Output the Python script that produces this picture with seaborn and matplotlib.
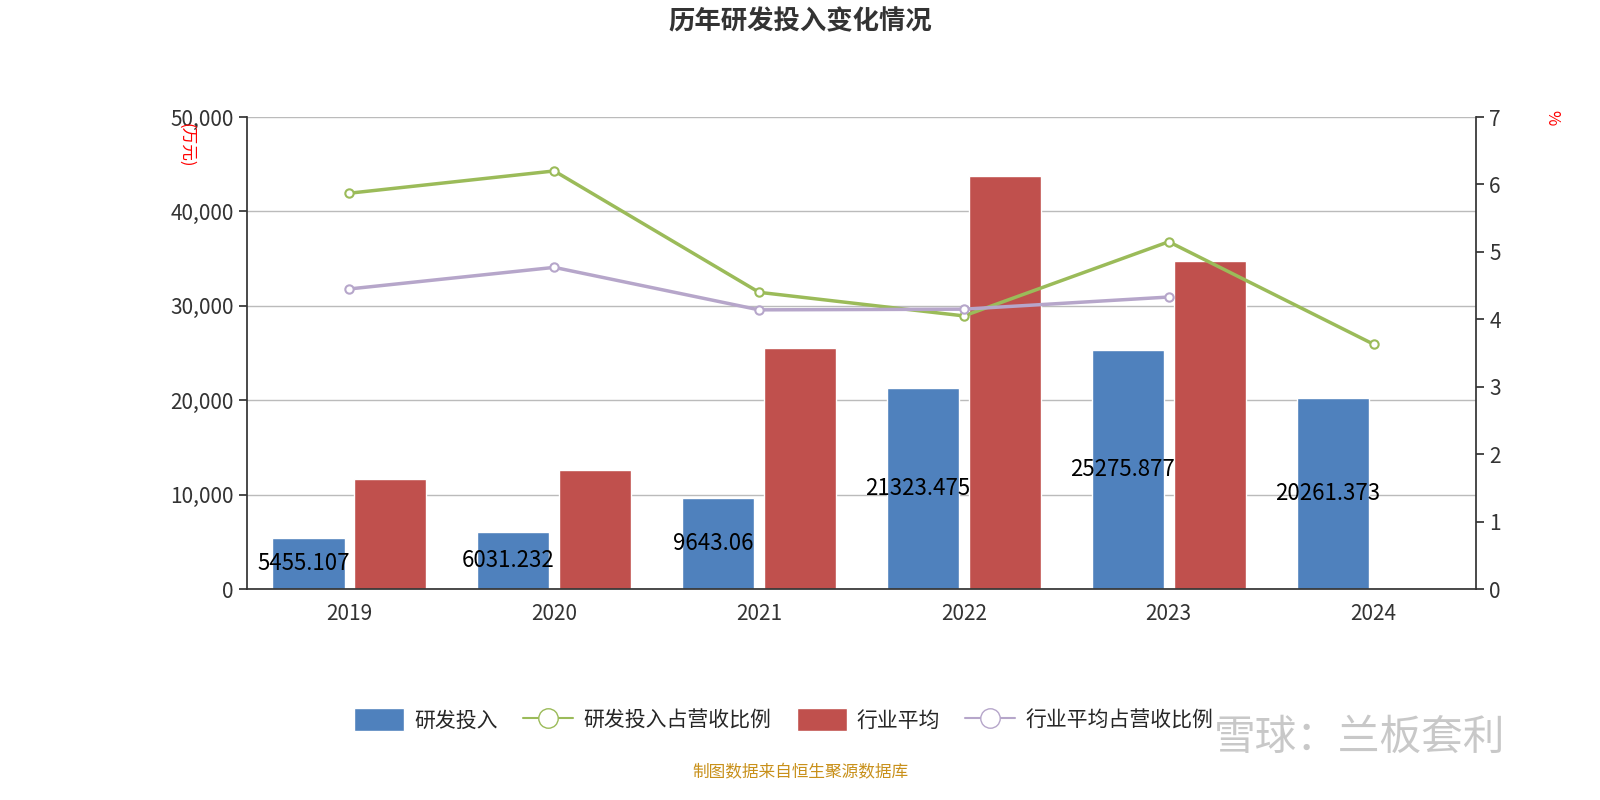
import numpy as np
import pandas as pd
import matplotlib
matplotlib.use('Agg')
import matplotlib.pyplot as plt
import seaborn as sns
from matplotlib.lines import Line2D
from matplotlib.patches import Patch

years = ['2019', '2020', '2021', '2022', '2023', '2024']
rd_spend = [5455.107, 6031.232, 9643.06, 21323.475, 25275.877, 20261.373]
rd_labels = ['5455.107', '6031.232', '9643.06', '21323.475', '25275.877', '20261.373']
industry_avg = [11700, 12600, 25500, 43700, 34700, np.nan]
rd_ratio = [5.87, 6.20, 4.40, 4.05, 5.15, 3.63]
industry_ratio = [4.45, 4.77, 4.14, 4.15, 4.33, np.nan]

sns.set_theme(style='white')
plt.rcParams['font.family'] = ['Noto Sans CJK SC', 'DejaVu Sans']

blue, red, green, purple = '#4f81bd', '#c0504d', '#9bbb59', '#b6a6ca'

df = pd.DataFrame({
    'year': years * 2,
    'value': rd_spend + industry_avg,
    'series': ['研发投入'] * 6 + ['行业平均'] * 6,
})

fig = plt.figure(figsize=(16, 8), dpi=100)
ax = fig.add_axes([247/1600, 1-589/800, (1476-247)/1600, (589-117)/800])
sns.barplot(data=df, x='year', y='value', hue='series', palette=[blue, red],
            width=0.8, gap=0.12, ax=ax, legend=False, saturation=1)
ax.set_ylim(0, 50000)
ax.set_xlim(-0.5, 5.5)
ax.set_yticks(range(0, 50001, 10000))
ax.set_yticklabels([f'{v:,}' for v in range(0, 50001, 10000)], fontsize=15, color='#333333')
ax.yaxis.grid(True, color='#bbbbbb', lw=1)
ax.set_axisbelow(True)
ax.set_xlabel('')
ax.set_ylabel('')
ax.set_xticks(np.arange(-0.5, 6, 1), minor=True)
ax.tick_params(axis='x', which='major', length=0, labelsize=15, labelcolor='#333333', pad=10)
ax.tick_params(axis='x', which='minor', length=6, color='#333333', direction='out')
ax.tick_params(axis='y', length=6, color='#333333', left=True)
for s in ['top', 'right']:
    ax.spines[s].set_visible(False)
for s in ['left', 'bottom']:
    ax.spines[s].set_color('#333333')

for i, v in enumerate(rd_spend):
    ax.text(i - 0.225, v / 2, rd_labels[i], ha='center', va='center',
            fontsize=16, color='black')

ax2 = ax.twinx()
ax2.set_ylim(0, 7)
ax2.set_yticks(range(8))
ax2.tick_params(axis='y', length=6, labelsize=15, labelcolor='#333333', color='#333333', right=True)
for s in ['top', 'left', 'bottom']:
    ax2.spines[s].set_visible(False)
ax2.spines['right'].set_color('#333333')
x = np.arange(6)
ax2.plot(x, rd_ratio, color=green, lw=2.5, marker='o', ms=6, mfc='white', mec=green, mew=1.5)
ax2.plot(x, industry_ratio, color=purple, lw=2.5, marker='o', ms=6, mfc='white', mec=purple, mew=1.5)
ax2.grid(False)

fig.text(0.5, 1-22/800, '历年研发投入变化情况', ha='center', va='center', fontsize=19,
         fontweight='bold', color='#333333')
fig.text(186/1600, 1-145/800, '(万元)', rotation=-90, ha='center', va='center', fontsize=12, color='red')
fig.text(1552/1600, 1-118/800, '%', rotation=-90, ha='center', va='center', fontsize=12, color='red')
fig.text(0.5, 1-773/800, '制图数据来自恒生聚源数据库', ha='center', va='center', fontsize=12, color='#c8901a')
fig.text(1360/1600, 1-738/800, '雪球：兰板套利', ha='center', va='center', fontsize=30,
         color='#bbbbbb', alpha=0.8)

handles = [
    Patch(facecolor=blue, label='研发投入'),
    Line2D([0], [0], color=green, lw=1.5, marker='o', ms=14, mfc='white', mec=green, label='研发投入占营收比例'),
    Patch(facecolor=red, label='行业平均'),
    Line2D([0], [0], color=purple, lw=1.5, marker='o', ms=14, mfc='white', mec=purple, label='行业平均占营收比例'),
]
fig.legend(handles=handles, loc='center', bbox_to_anchor=(0.49, 1-720/800), ncol=4, frameon=False,
           fontsize=15, handlelength=2.4, handleheight=1.3, columnspacing=1.2, handletextpad=0.5)

fig.savefig('out.png', dpi=100)
